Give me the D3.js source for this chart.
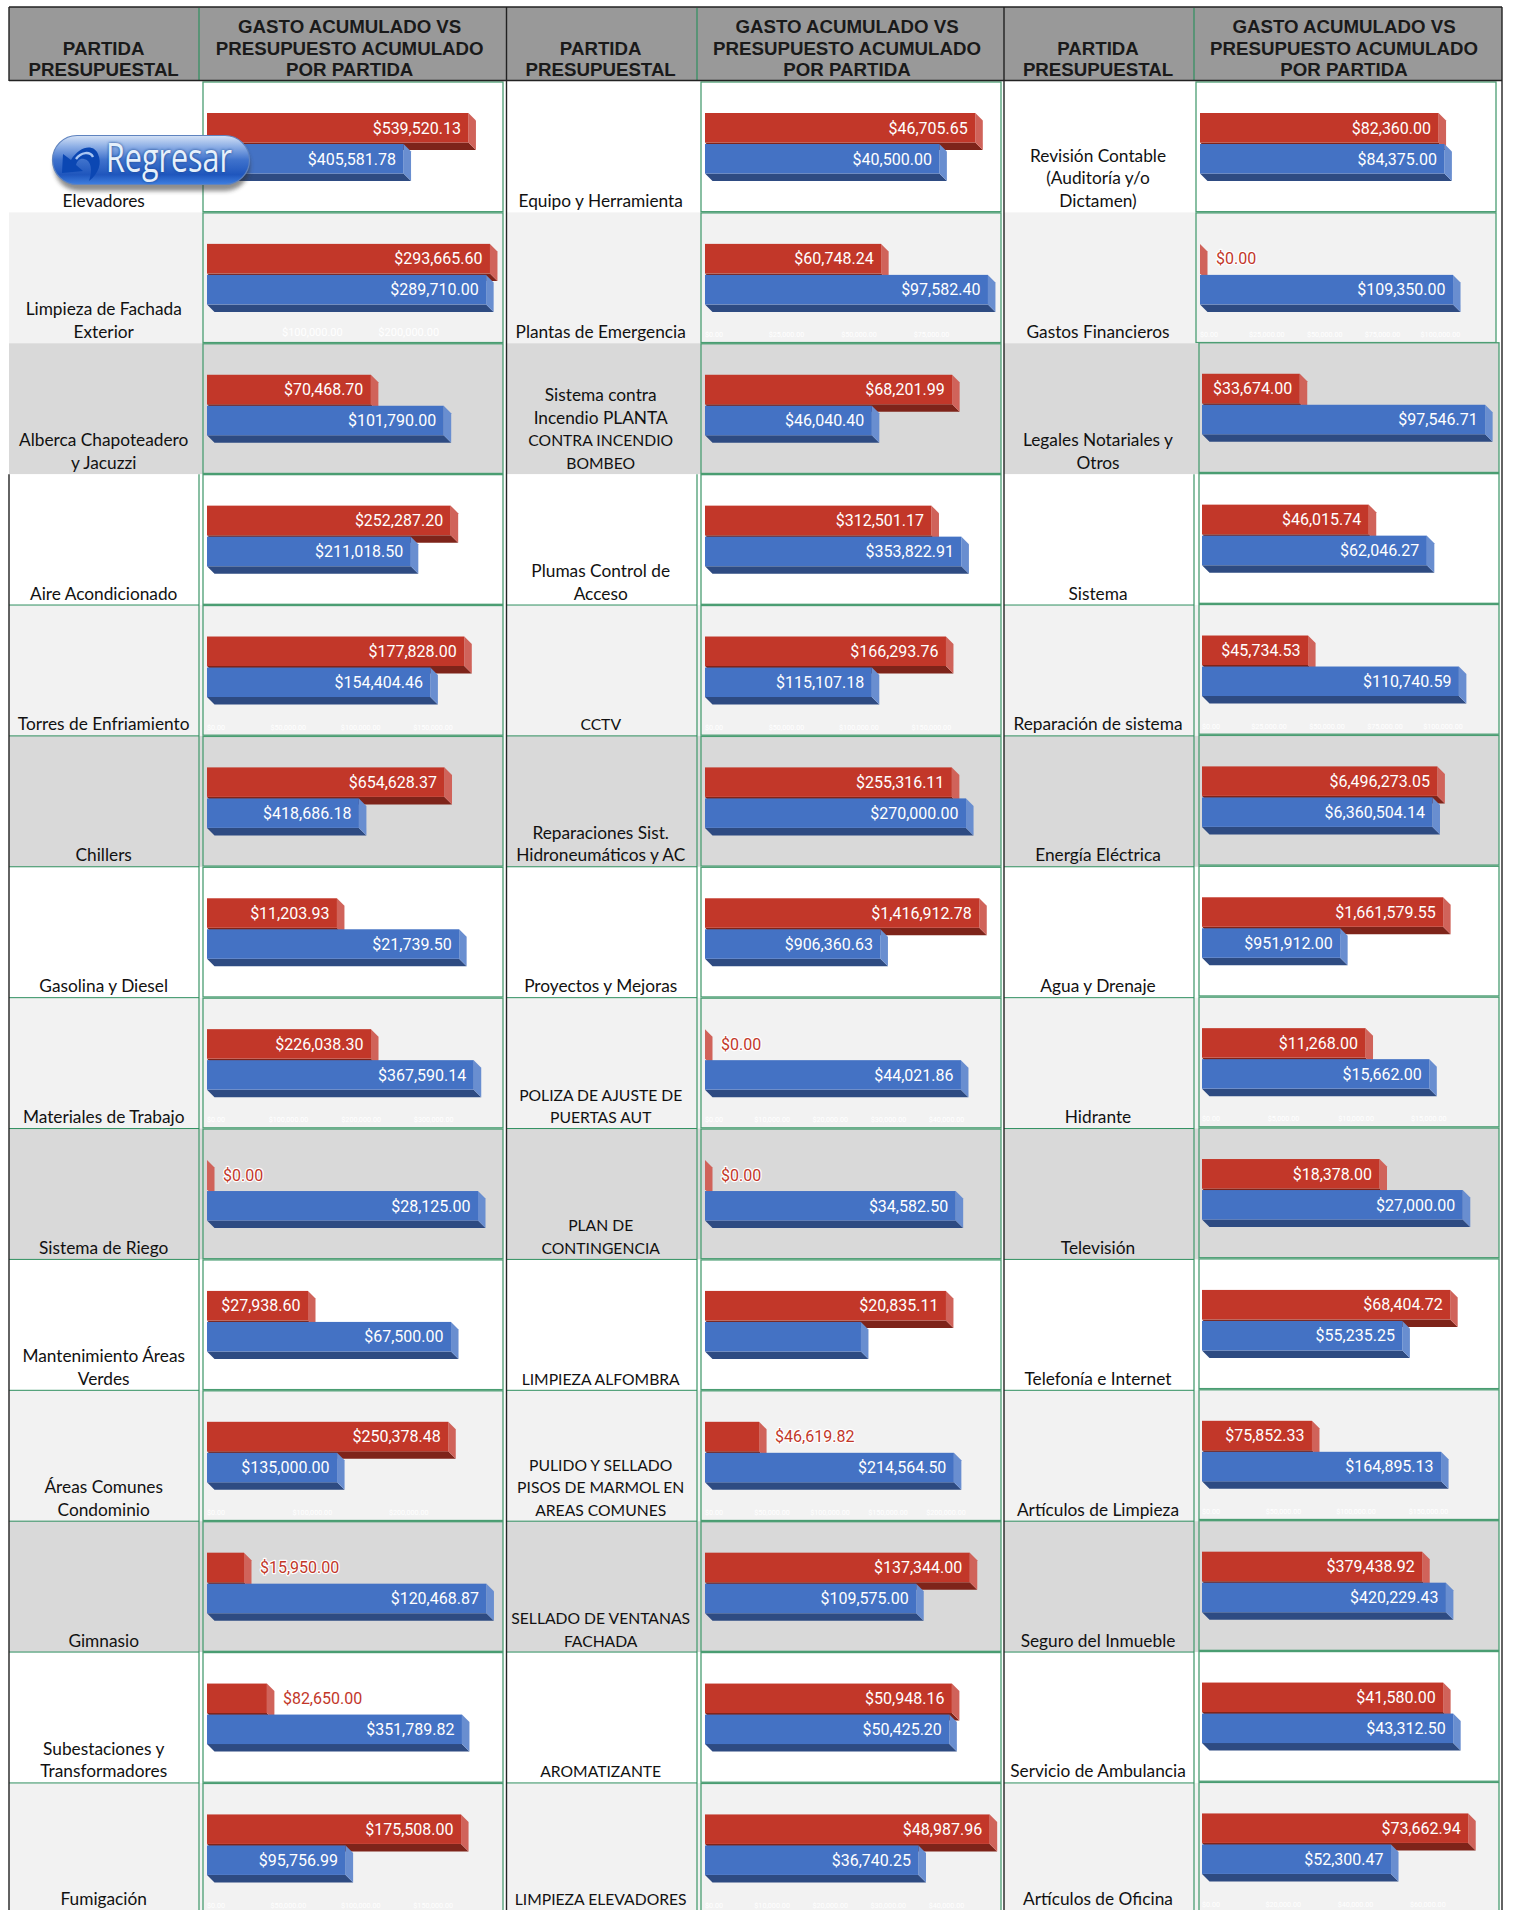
<!DOCTYPE html>
<html>
<head>
<meta charset="utf-8">
<script src="https://cdn.jsdelivr.net/npm/d3@7"></script>
<style>
  html, body { margin: 0; padding: 0; background: #fff; overflow: hidden; }
  svg { display: block; }
</style>
</head>
<body>
<svg id="chart"></svg>
<script>
// "|" marks a line break inside the cell
const partidasA = ["Elevadores", "Limpieza de Fachada|Exterior", "Alberca Chapoteadero|y Jacuzzi", "Aire Acondicionado", "Torres de Enfriamiento", "Chillers", "Gasolina y Diesel", "Materiales de Trabajo", "Sistema de Riego", "Mantenimiento Áreas|Verdes", "Áreas Comunes|Condominio", "Gimnasio", "Subestaciones y|Transformadores", "Fumigación"];
const gastoA = [539520.13, 293665.60, 70468.70, 252287.20, 177828.00, 654628.37, 11203.93, 226038.30, 0, 27938.60, 250378.48, 15950.00, 82650.00, 175508.00];
const presupuestoA = [405581.78, 289710.00, 101790.00, 211018.50, 154404.46, 418686.18, 21739.50, 367590.14, 28125.00, 67500.00, 135000.00, 120468.87, 351789.82, 95756.99];
const maximoA = [584000, 293700, 121700, 293000, 195600, 780000, 24400, 390000, 29370, 78280, 293700, 122000, 390500, 195500];

const partidasB = ["Equipo y Herramienta", "Plantas de Emergencia", "Sistema contra|Incendio PLANTA|CONTRA INCENDIO|BOMBEO", "Plumas Control de|Acceso", "CCTV", "Reparaciones Sist.|Hidroneumáticos y AC", "Proyectos y Mejoras", "POLIZA DE AJUSTE DE|PUERTAS AUT", "PLAN DE|CONTINGENCIA", "LIMPIEZA ALFOMBRA", "PULIDO Y SELLADO|PISOS DE MARMOL EN|AREAS COMUNES", "SELLADO DE VENTANAS|FACHADA", "AROMATIZANTE", "LIMPIEZA ELEVADORES"];
const gastoB = [46705.65, 60748.24, 68201.99, 312501.17, 166293.76, 255316.11, 1416912.78, 0, 0, 20835.11, 46619.82, 137344.00, 50948.16, 48987.96];
const presupuestoB = [40500.00, 97582.40, 46040.40, 353822.91, 115107.18, 270000.00, 906360.63, 44021.86, 34582.50, 13486, 214564.50, 109575.00, 50425.20, 36740.25];
const maximoB = [48900, 97600, 78100, 390500, 195300, 292700, 1462000, 48670, 39040, 24470, 244000, 146800, 58400, 48700];

const partidasC = ["Revisión Contable|(Auditoría y/o|Dictamen)", "Gastos Financieros", "Legales Notariales y|Otros", "Sistema", "Reparación de sistema", "Energía Eléctrica", "Agua y Drenaje", "Hidrante", "Televisión", "Telefonía e Internet", "Artículos de Limpieza", "Seguro del Inmueble", "Servicio de Ambulancia", "Artículos de Oficina"];
const gastoC = [82360.00, 0, 33674.00, 46015.74, 45734.53, 6496273.05, 1661579.55, 11268.00, 18378.00, 68404.72, 75852.33, 379438.92, 41580.00, 73662.94];
const presupuestoC = [84375.00, 109350.00, 97546.71, 62046.27, 110740.59, 6360504.14, 951912.00, 15662.00, 27000.00, 55235.25, 164895.13, 420229.43, 43312.50, 52300.47];
const maximoC = [97700, 122300, 97500, 78100, 122000, 7810000, 1950000, 19500, 29300, 78000, 195200, 487600, 48800, 78300];

// faint axis labels, only the light grey rows keep them (rows 2, 5, 8, 11, 14)
const ticksA = { 1: [100000, 200000], 4: [0, 50000, 100000, 150000], 7: [0, 100000, 200000, 300000], 10: [0, 100000, 200000], 13: [0, 50000, 100000, 150000] };
const ticksB = { 1: [0, 25000, 50000, 75000], 4: [0, 50000, 100000, 150000], 7: [0, 10000, 20000, 30000, 40000], 10: [0, 50000, 100000, 150000, 200000], 13: [0, 10000, 20000, 30000, 40000] };
const ticksC = { 1: [0, 25000, 50000, 75000, 100000], 4: [0, 25000, 50000, 75000, 100000], 7: [0, 5000, 10000, 15000], 10: [0, 50000, 100000, 150000], 13: [0, 20000, 40000, 60000] };

// this bar has no label in the original
const sinEtiqueta = ["LIMPIEZA ALFOMBRA"];

const rowFills = ["#ffffff", "#f2f2f2", "#d9d9d9"];
const headerChart = ["GASTO ACUMULADO VS", "PRESUPUESTO ACUMULADO", "POR PARTIDA"];
const headerLabel = ["PARTIDA", "PRESUPUESTAL"];

const W = 1514, H = 1910;
const top0 = 81.5, rowH = 130.88;
const barW = 283, barH = 29.5, depth = 7.5;
const green = "#4a9d72";
const fmt = d3.format("$,.2f");

const columns = [
  { partidas: partidasA, gasto: gastoA, presupuesto: presupuestoA, maximo: maximoA, ticks: ticksA,
    left: 9, split: 199, box: 203, labelX: 103.7, chartX: 349.7 },
  { partidas: partidasB, gasto: gastoB, presupuesto: presupuestoB, maximo: maximoB, ticks: ticksB,
    left: 507, split: 697, box: 701, labelX: 600.7, chartX: 847 },
  { partidas: partidasC, gasto: gastoC, presupuesto: presupuestoC, maximo: maximoC, ticks: ticksC,
    left: 1004, split: 1194, box: 1196, labelX: 1098, chartX: 1344 }
];

const svg = d3.select("#chart").attr("width", W).attr("height", H);

const defs = svg.append("defs");

/* ------------------ header ------------------ */

svg.append("rect")
  .attr("x", 9).attr("y", 7).attr("width", 1493).attr("height", 73.5)
  .attr("fill", "#999999");

function drawHeader(col) {
  const g = svg.append("g")
    .attr("font-family", "'Liberation Sans', Arial, sans-serif")
    .attr("font-weight", "bold")
    .attr("font-size", 18.7)
    .attr("fill", "#1a1a1a")
    .attr("text-anchor", "middle");

  headerLabel.forEach((t, i) =>
    g.append("text").attr("x", col.labelX).attr("y", 55 + i * 21).text(t)
  );
  headerChart.forEach((t, i) =>
    g.append("text").attr("x", col.chartX).attr("y", 33 + i * 21.5).text(t)
  );

  svg.append("line")
    .attr("x1", col.split).attr("x2", col.split)
    .attr("y1", 8).attr("y2", 80)
    .attr("stroke", "#2f8f5f").attr("stroke-width", 1.2);
}

/* ------------------ one chart cell ------------------ */

function drawBar(g, x, value, y0, c, labelled) {
  const w = x(value);
  const y1 = y0 + barH;

  // bottom face
  g.append("polygon")
    .attr("points", [[0, y1], [w, y1], [w + depth, y1 + depth], [depth, y1 + depth]].join(" "))
    .attr("fill", c.bottom);
  // right face
  g.append("polygon")
    .attr("points", [[w, y0], [w + depth, y0 + depth], [w + depth, y1 + depth], [w, y1]].join(" "))
    .attr("fill", c.side);
  // front face
  g.append("rect")
    .attr("x", 0).attr("y", y0)
    .attr("width", w).attr("height", barH)
    .attr("fill", c.front);

  if (!labelled) return;

  const inside = w > 85;
  const text = g.append("text")
    .attr("x", inside ? w - 7.5 : w + depth + 8.5)
    .attr("y", y0 + barH / 2)
    .attr("dy", "0.36em")
    .attr("text-anchor", inside ? "end" : "start")
    .attr("font-family", "Roboto, sans-serif")
    .attr("font-size", 16)
    .attr("fill", inside ? "#ffffff" : c.front)
    .text(fmt(value));

  if (!inside) {
    text.attr("stroke", "#ffffff")
      .attr("stroke-width", 2.4)
      .attr("stroke-linejoin", "round")
      .attr("paint-order", "stroke");
  }
}

const redBar = { front: "#c23729", side: "#d0635a", bottom: "#7e241a" };
const blueBar = { front: "#4472c4", side: "#698ed0", bottom: "#2e4b82" };

function drawRow(col, colIndex, i) {
  const rowTop = top0 + i * rowH;
  const fill = rowFills[i % 3];

  // third column sits slightly to the right and up from row 3 on
  const shifted = colIndex === 2 && i >= 2;
  const boxX = shifted ? col.box + 3 : col.box;
  const boxY = shifted ? rowTop - 1 : rowTop;

  // partida cell
  svg.append("rect")
    .attr("x", col.left).attr("y", rowTop)
    .attr("width", col.split - col.left + 5).attr("height", rowH + 0.5)
    .attr("fill", fill);

  const lines = col.partidas[i].split("|");
  const baseY = Math.min(rowTop + rowH - 5.5, H - 5);
  const label = svg.append("g")
    .attr("font-family", "Lato, sans-serif")
    .attr("fill", "#111111")
    .attr("text-anchor", "middle");
  lines.forEach((t, k) =>
    label.append("text")
      .attr("x", col.labelX)
      .attr("y", baseY - (lines.length - 1 - k) * 22.5)
      // Lato capitals run wider than the sheet's font
      .attr("font-size", t === t.toUpperCase() ? 15.7 : 17.3)
      .text(t)
  );

  // chart cell
  svg.append("rect")
    .attr("x", boxX).attr("y", boxY + 0.5)
    .attr("width", 300).attr("height", rowH - 1.2)
    .attr("fill", fill)
    .attr("stroke", green).attr("stroke-width", 1.3);

  const x = d3.scaleLinear().domain([0, col.maximo[i]]).range([0, barW]);

  const g = svg.append("g")
    .attr("transform", `translate(${boxX + (shifted ? 3 : 4)},${boxY + 31.5})`);

  const tickValues = col.ticks[i];
  if (tickValues) {
    const bigTicks = colIndex === 0 && i === 1;
    const axis = g.append("g")
      .attr("transform", `translate(8.5,${bigTicks ? 81 : 85})`)
      .call(d3.axisBottom(x).tickValues(tickValues).tickSize(0).tickFormat(fmt));
    axis.select(".domain").remove();
    axis.selectAll("text")
      .attr("fill", "#ffffff")
      .attr("font-family", "Roboto, sans-serif")
      .attr("font-size", bigTicks ? 11 : 7.2);
  }

  drawBar(g, x, col.gasto[i], 0, redBar, true);
  drawBar(g, x, col.presupuesto[i], 31, blueBar, !sinEtiqueta.includes(col.partidas[i]));
}

/* ------------------ grid lines ------------------ */

function drawGrid(col) {
  // from the fourth row down the partida cells have green rules
  const y4 = top0 + 3 * rowH;

  svg.append("line")
    .attr("x1", col.split).attr("x2", col.split)
    .attr("y1", y4).attr("y2", H)
    .attr("stroke", green).attr("stroke-width", 1.3);

  for (let i = 4; i < 14; i++) {
    const y = top0 + i * rowH;
    svg.append("line")
      .attr("x1", col.left).attr("x2", col.split)
      .attr("y1", y).attr("y2", y)
      .attr("stroke", "#2f8f5f").attr("stroke-width", 1);
  }
}

function drawFrame() {
  const black = "#222222";
  [[9, 7, 1502, 7], [9, 80.5, 1502, 80.5], [9, 7, 9, 81], [506.5, 7, 506.5, H], [1004, 7, 1004, H], [1502, 7, 1502, H], [9, top0 + 3 * rowH, 9, H]]
    .forEach(d => {
      svg.append("line")
        .attr("x1", d[0]).attr("y1", d[1])
        .attr("x2", d[2]).attr("y2", d[3])
        .attr("stroke", black).attr("stroke-width", 1.4);
    });
}

/* ------------------ boton Regresar ------------------ */

function drawButton() {
  const pill = defs.append("linearGradient")
    .attr("id", "pill").attr("x1", 0).attr("x2", 0).attr("y1", 0).attr("y2", 1);
  [[0, "#d5e2f6"], [0.22, "#8fb0e6"], [0.5, "#3f72cc"], [0.8, "#1f56bd"], [1, "#3f7fe0"]]
    .forEach(d => pill.append("stop").attr("offset", d[0]).attr("stop-color", d[1]));

  const blur = defs.append("filter")
    .attr("id", "shadow").attr("x", "-10%").attr("y", "-20%").attr("width", "120%").attr("height", "150%");
  blur.append("feGaussianBlur").attr("stdDeviation", 2.2);

  const glow = defs.append("filter")
    .attr("id", "glow").attr("x", "-10%").attr("y", "-20%").attr("width", "120%").attr("height", "140%");
  glow.append("feGaussianBlur").attr("stdDeviation", 1.4);

  const b = svg.append("g").attr("transform", "translate(52,135)");

  b.append("rect")
    .attr("x", 2).attr("y", 5).attr("width", 196).attr("height", 51).attr("rx", 25)
    .attr("fill", "#333333").attr("opacity", 0.55).attr("filter", "url(#shadow)");
  b.append("rect")
    .attr("x", 0.5).attr("y", 0.5).attr("width", 197).attr("height", 49).attr("rx", 24.5)
    .attr("fill", "url(#pill)").attr("stroke", "#5f83bf").attr("stroke-width", 1.2);

  // swirl arrow
  b.append("path")
    .attr("d", "M10 38 L11 19 L19 25 C27 12 41 8 46 19 C50 28 47 38 37 46 C41 35 39 25 32 24 C28 23 25 26 24 30 L31 36 Z")
    .attr("fill", "#0b47b3");
  b.append("path")
    .attr("d", "M24 24 C29 17 38 16 41 22")
    .attr("fill", "none").attr("stroke", "#a9c6f2").attr("stroke-width", 2.4);

  const word = (sel) => sel
    .attr("x", 54).attr("y", 37)
    .attr("font-family", "'Open Sans', sans-serif")
    .attr("font-size", 40)
    .attr("textLength", 126)
    .attr("lengthAdjust", "spacingAndGlyphs")
    .text("Regresar");

  b.append("text").call(word).attr("fill", "#15458f").attr("filter", "url(#glow)");
  b.append("text").call(word).attr("fill", "#e6f0fb");
}

/* ------------------ draw ------------------ */

columns.forEach(col => drawHeader(col));
columns.forEach((col, c) => {
  col.partidas.forEach((d, i) => drawRow(col, c, i));
  drawGrid(col);
});
drawFrame();
drawButton();
</script>
</body>
</html>
